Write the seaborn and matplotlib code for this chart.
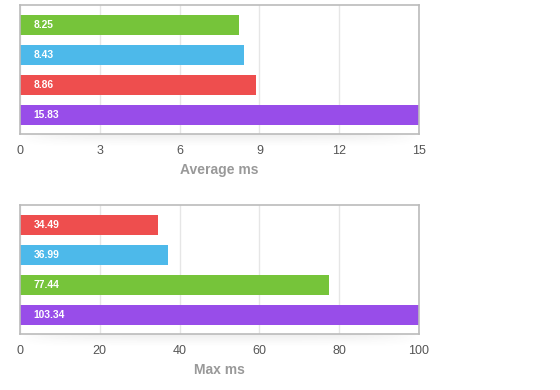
import matplotlib
matplotlib.use("Agg")
import matplotlib.pyplot as plt
import seaborn as sns
import pandas as pd
import numpy as np

# ---- data ----
avg_series = ["Series A", "Series B", "Series C", "Series D"]
avg_values = [8.25, 8.43, 8.86, 15.83]
avg_colors = ["#76c43a", "#4db9ea", "#ee4e4e", "#984de9"]
avg_ticks = [0, 3, 6, 9, 12, 15]

max_series = ["Series C", "Series B", "Series A", "Series D"]
max_values = [34.49, 36.99, 77.44, 103.34]
max_colors = ["#ee4e4e", "#4db9ea", "#76c43a", "#984de9"]
max_ticks = [0, 20, 40, 60, 80, 100]

sns.set_theme(style="white")
plt.rcParams["font.family"] = ["Liberation Sans", "DejaVu Sans"]

W, H = 560, 390
fig = plt.figure(figsize=(W / 100, H / 100), dpi=100)


def px_axes(left, top, right, bottom, **kw):
    return fig.add_axes([left / W, 1 - bottom / H, (right - left) / W, (bottom - top) / H], **kw)


def shadow(left, top, right, bottom):
    sax = px_axes(left, top, right, bottom, zorder=0)
    yy = np.linspace(0, 1, 40)[:, None]
    xx = np.linspace(-1, 1, 200)[None, :]
    alpha = (1 - yy) ** 1.5 * np.clip(1.0 - np.abs(xx) ** 6, 0, 1) * 0.10
    rgba = np.zeros((40, 200, 4))
    rgba[..., :3] = 0.3
    rgba[..., 3] = alpha
    sax.imshow(rgba, aspect="auto", extent=[0, 1, 0, 1], interpolation="bilinear")
    sax.set_axis_off()


def draw(ax, series, values, colors, ticks, xlabel):
    df = pd.DataFrame({"series": series, "value": values})
    sns.barplot(data=df, x="value", y="series", hue="series", palette=colors,
                orient="h", width=0.667, legend=False, ax=ax, saturation=1, linewidth=0)
    ax.set_xlim(ticks[0], ticks[-1])
    ax.set_ylim(len(series) - 0.35, -0.65)
    ax.set_xticks(ticks)
    ax.set_xticklabels([str(t) for t in ticks], color="#555555", fontsize=9)
    ax.set_yticks([])
    ax.set_ylabel("")
    ax.set_xlabel(xlabel, color="#999999", fontsize=10, fontweight="bold", labelpad=4)
    ax.tick_params(axis="x", length=0, pad=8)
    ax.grid(axis="x", color="#e6e6e6", linewidth=1)
    ax.set_axisbelow(True)
    ax.patch.set_alpha(1)
    for s in ax.spines.values():
        s.set_color("#bbbbbb")
        s.set_linewidth(1.2)
    tr = ax.get_yaxis_transform()
    for i, v in enumerate(values):
        ax.text(0.034, i, f"{v:.2f}", transform=tr, color="white", fontsize=7.4,
                fontweight="bold", va="center", ha="left")


shadow(20, 134, 419, 148)
shadow(20, 334, 419, 348)

ax1 = px_axes(20, 5.3, 419, 134.3, zorder=1)
draw(ax1, avg_series, avg_values, avg_colors, avg_ticks, "Average ms")

ax2 = px_axes(20, 205.3, 419, 334.3, zorder=1)
draw(ax2, max_series, max_values, max_colors, max_ticks, "Max ms")

fig.savefig("out.png", dpi=100)
